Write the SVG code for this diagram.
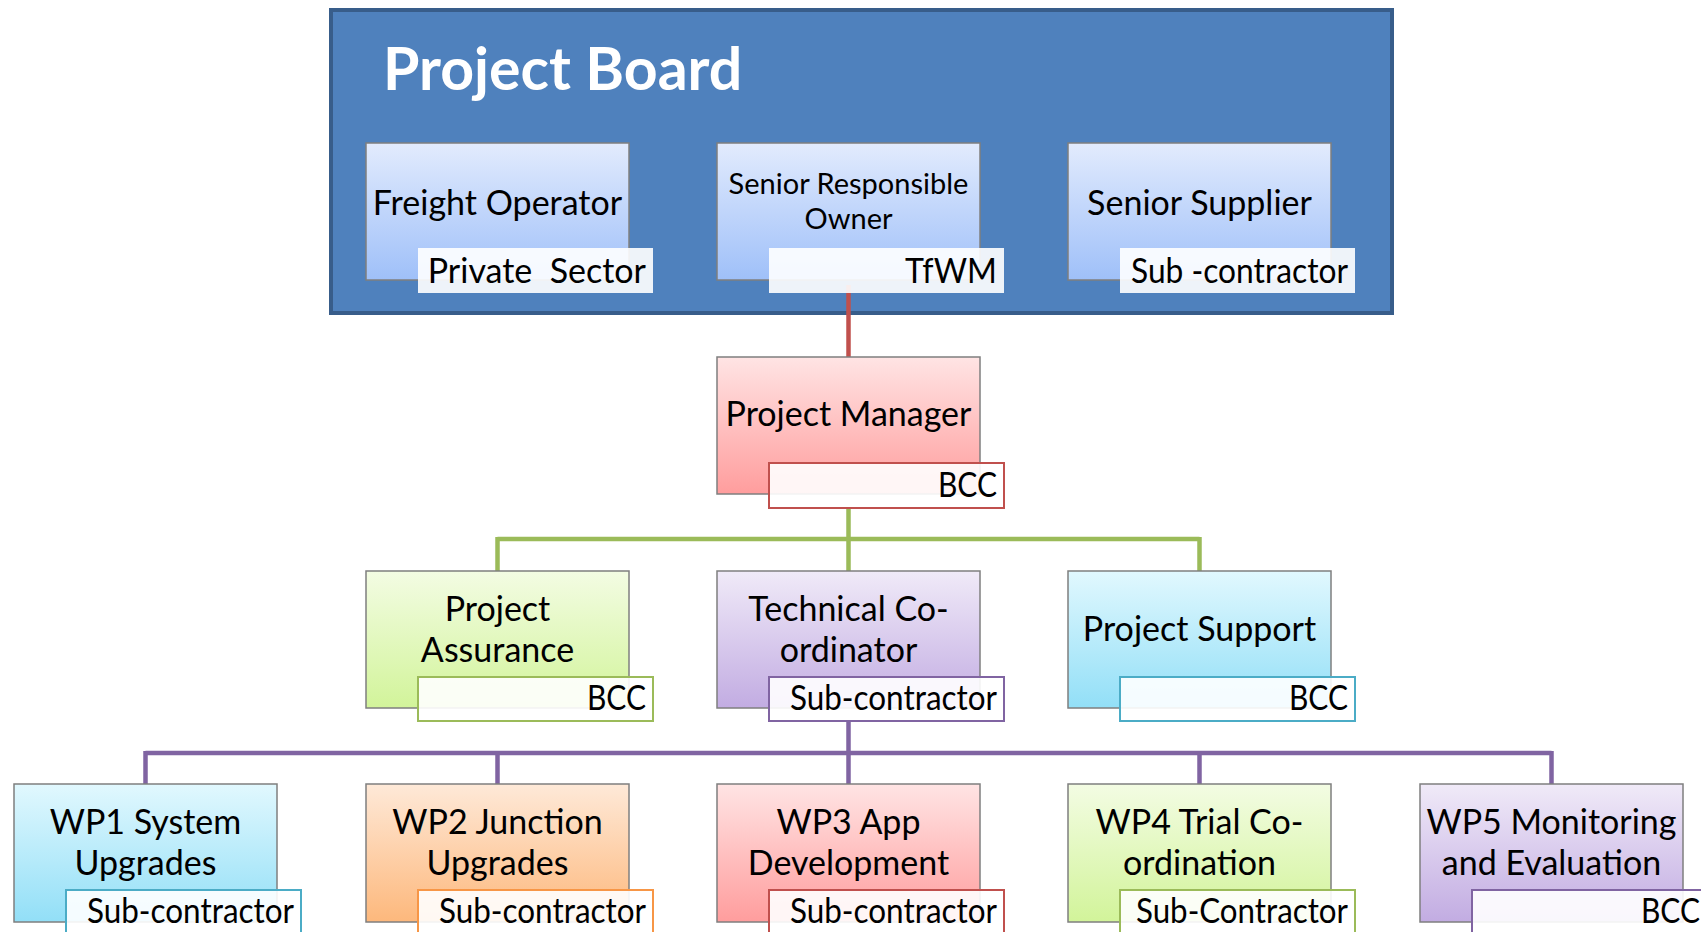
<svg xmlns="http://www.w3.org/2000/svg" width="1701" height="932" viewBox="0 0 1701 932">
  <defs>
    <linearGradient id="gBlue" x1="0" y1="0" x2="0" y2="1">
      <stop offset="0" stop-color="#E2EBFD"/><stop offset="1" stop-color="#9FC0F9"/>
    </linearGradient>
    <linearGradient id="gRed" x1="0" y1="0" x2="0" y2="1">
      <stop offset="0" stop-color="#FFE4E4"/><stop offset="1" stop-color="#FF9D9D"/>
    </linearGradient>
    <linearGradient id="gGreen" x1="0" y1="0" x2="0" y2="1">
      <stop offset="0" stop-color="#F3FCE3"/><stop offset="1" stop-color="#D2F49A"/>
    </linearGradient>
    <linearGradient id="gPurple" x1="0" y1="0" x2="0" y2="1">
      <stop offset="0" stop-color="#F0EAF8"/><stop offset="1" stop-color="#C2ACE2"/>
    </linearGradient>
    <linearGradient id="gCyan" x1="0" y1="0" x2="0" y2="1">
      <stop offset="0" stop-color="#E1F8FE"/><stop offset="1" stop-color="#92DFF7"/>
    </linearGradient>
    <linearGradient id="gOrange" x1="0" y1="0" x2="0" y2="1">
      <stop offset="0" stop-color="#FEE9D8"/><stop offset="1" stop-color="#FDB87C"/>
    </linearGradient>
    <style>
      .box { stroke: #7F7F7F; stroke-width: 1.5; }
      .tag { fill: #FFFFFF; fill-opacity: 0.9; stroke-width: 2; }
      .tag-plain { fill: #FFFFFF; fill-opacity: 0.9; stroke: none; }
      .txt { font-family: Lato, "Liberation Sans", sans-serif; font-size: 34px; fill: #000; }
      .mid { text-anchor: middle; }
      .end { text-anchor: end; }
      .small { font-size: 29px; }
      .title { font-family: Lato, "Liberation Sans", sans-serif; font-weight: bold; font-size: 59px; fill: #FFFFFF; }
      .wire { fill: none; stroke-width: 4.5; }
    </style>
  </defs>

  <!-- board frame -->
  <g id="project-board">
    <rect x="331" y="10" width="1061" height="303" fill="#4F81BD" stroke="#385D8A" stroke-width="4"/>
    <text class="title" x="383" y="90">Project Board</text>
  </g>

  <!-- connectors -->
  <g id="connectors">
    <path class="wire" stroke="#C0504D" d="M848.5 285 V357"/>
    <path class="wire" stroke="#9BBB59" d="M848.5 508 V539 M497.5 539 H1199.5 M497.5 537 V571 M848.5 539 V571 M1199.5 537 V571"/>
    <path class="wire" stroke="#8064A2" d="M848.5 721 V753 M145.5 753 H1551.5 M145.5 751 V784 M497.5 753 V784 M848.5 753 V784 M1199.5 753 V784 M1551.5 751 V784"/>
  </g>

  <!-- board members -->
  <g id="freight-operator">
    <rect class="box" x="366" y="143" width="263" height="137" fill="url(#gBlue)"/>
    <rect class="tag-plain" x="418" y="248" width="235" height="45"/>
    <text class="txt mid" x="497.5" y="215">Freight Operator</text>
    <text class="txt end" x="646" y="283" xml:space="preserve">Private  Sector</text>
  </g>
  <g id="senior-responsible-owner">
    <rect class="box" x="717" y="143" width="263" height="137" fill="url(#gBlue)"/>
    <rect class="tag-plain" x="769" y="248" width="235" height="45"/>
    <text class="txt mid small" x="848.5" y="194">Senior Responsible</text>
    <text class="txt mid small" x="848.5" y="229">Owner</text>
    <text class="txt end" x="997" y="283" textLength="92" lengthAdjust="spacingAndGlyphs">TfWM</text>
  </g>
  <g id="senior-supplier">
    <rect class="box" x="1068" y="143" width="263" height="137" fill="url(#gBlue)"/>
    <rect class="tag-plain" x="1120" y="248" width="235" height="45"/>
    <text class="txt mid" x="1199.5" y="215">Senior Supplier</text>
    <text class="txt end" x="1348" y="283" textLength="217" lengthAdjust="spacingAndGlyphs">Sub -contractor</text>
  </g>

  <!-- management -->
  <g id="project-manager">
    <rect class="box" x="717" y="357" width="263" height="137" fill="url(#gRed)"/>
    <rect class="tag" x="769" y="463" width="235" height="45" stroke="#C0504D"/>
    <text class="txt mid" x="848.5" y="426">Project Manager</text>
    <text class="txt end" x="997" y="497" textLength="59" lengthAdjust="spacingAndGlyphs">BCC</text>
  </g>

  <g id="project-assurance">
    <rect class="box" x="366" y="571" width="263" height="137" fill="url(#gGreen)"/>
    <rect class="tag" x="418" y="677" width="235" height="44" stroke="#9BBB59"/>
    <text class="txt mid" x="497.5" y="621">Project</text>
    <text class="txt mid" x="497.5" y="662">Assurance</text>
    <text class="txt end" x="646" y="710" textLength="59" lengthAdjust="spacingAndGlyphs">BCC</text>
  </g>
  <g id="technical-coordinator">
    <rect class="box" x="717" y="571" width="263" height="137" fill="url(#gPurple)"/>
    <rect class="tag" x="769" y="677" width="235" height="44" stroke="#8064A2"/>
    <text class="txt mid" x="848.5" y="621">Technical Co-</text>
    <text class="txt mid" x="848.5" y="662">ordinator</text>
    <text class="txt end" x="997" y="710" textLength="207" lengthAdjust="spacingAndGlyphs">Sub-contractor</text>
  </g>
  <g id="project-support">
    <rect class="box" x="1068" y="571" width="263" height="137" fill="url(#gCyan)"/>
    <rect class="tag" x="1120" y="677" width="235" height="44" stroke="#4BACC6"/>
    <text class="txt mid" x="1199.5" y="641">Project Support</text>
    <text class="txt end" x="1348" y="710" textLength="59" lengthAdjust="spacingAndGlyphs">BCC</text>
  </g>

  <!-- work packages -->
  <g id="wp1">
    <rect class="box" x="14" y="784" width="263" height="138" fill="url(#gCyan)"/>
    <rect class="tag" x="66" y="890" width="235" height="46" stroke="#4BACC6"/>
    <text class="txt mid" x="145.5" y="834">WP1 System</text>
    <text class="txt mid" x="145.5" y="875">Upgrades</text>
    <text class="txt end" x="294" y="923" textLength="207" lengthAdjust="spacingAndGlyphs">Sub-contractor</text>
  </g>
  <g id="wp2">
    <rect class="box" x="366" y="784" width="263" height="138" fill="url(#gOrange)"/>
    <rect class="tag" x="418" y="890" width="235" height="46" stroke="#F79646"/>
    <text class="txt mid" x="497.5" y="834">WP2 Junction</text>
    <text class="txt mid" x="497.5" y="875">Upgrades</text>
    <text class="txt end" x="646" y="923" textLength="207" lengthAdjust="spacingAndGlyphs">Sub-contractor</text>
  </g>
  <g id="wp3">
    <rect class="box" x="717" y="784" width="263" height="138" fill="url(#gRed)"/>
    <rect class="tag" x="769" y="890" width="235" height="46" stroke="#C0504D"/>
    <text class="txt mid" x="848.5" y="834">WP3 App</text>
    <text class="txt mid" x="848.5" y="875">Development</text>
    <text class="txt end" x="997" y="923" textLength="207" lengthAdjust="spacingAndGlyphs">Sub-contractor</text>
  </g>
  <g id="wp4">
    <rect class="box" x="1068" y="784" width="263" height="138" fill="url(#gGreen)"/>
    <rect class="tag" x="1120" y="890" width="235" height="46" stroke="#9BBB59"/>
    <text class="txt mid" x="1199.5" y="834">WP4 Trial Co-</text>
    <text class="txt mid" x="1199.5" y="875">ordination</text>
    <text class="txt end" x="1348" y="923" textLength="212" lengthAdjust="spacingAndGlyphs">Sub-Contractor</text>
  </g>
  <g id="wp5">
    <rect class="box" x="1420" y="784" width="263" height="138" fill="url(#gPurple)"/>
    <rect class="tag" x="1472" y="890" width="235" height="46" stroke="#8064A2"/>
    <text class="txt mid" x="1551.5" y="834">WP5 Monitoring</text>
    <text class="txt mid" x="1551.5" y="875">and Evaluation</text>
    <text class="txt end" x="1700" y="923" textLength="59" lengthAdjust="spacingAndGlyphs">BCC</text>
  </g>
</svg>
